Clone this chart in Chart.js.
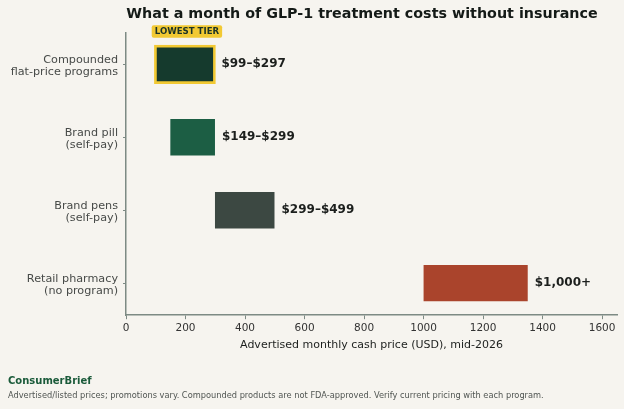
<!DOCTYPE html>
<html>
<head>
<meta charset="utf-8">
<script src="https://cdn.jsdelivr.net/npm/chart.js@4"></script>
<style>
  html, body { margin: 0; padding: 0; background: #f6f4ef; font-family: "DejaVu Sans"; }
  #wrap { width: 624px; height: 409px; }
  .probe { position: absolute; left: -999px; top: 0; font-family: "DejaVu Sans"; }
</style>
</head>
<body>
<span class="probe">Aa</span><span class="probe" style="font-weight:bold">Aa</span>
<div id="wrap"><canvas id="chart" width="624" height="409"></canvas></div>
<script>
// data
const categories = [
    ['Compounded', 'flat-price programs'],
    ['Brand pill', '(self-pay)'],
    ['Brand pens', '(self-pay)'],
    ['Retail pharmacy', '(no program)']
];
const lowPrices = [99, 149, 299, 1000];
const highPrices = [297, 299, 499, 1350];
const priceLabels = ['$99–$297', '$149–$299', '$299–$499', '$1,000+'];
const xTicks = [0, 200, 400, 600, 800, 1000, 1200, 1400, 1600];
const barColors = ['#153a2d', '#1c5e44', '#3c4842', '#aa442c'];

const FONT = '"DejaVu Sans"';

// title, badge, value labels and footer
const decorations = {
    id: 'decorations',
    beforeDraw(chart) {
        const c = chart.ctx;
        c.save();
        c.fillStyle = '#f6f4ef';
        c.fillRect(0, 0, chart.width, chart.height);
        c.restore();
    },
    afterDatasetsDraw(chart) {
        const c = chart.ctx;
        const bars = chart.getDatasetMeta(0).data;
        c.save();

        // value labels
        c.font = 'bold 12px ' + FONT;
        c.fillStyle = '#1c1f1d';
        c.textAlign = 'left';
        c.textBaseline = 'middle';
        bars.forEach((bar, i) => {
            c.fillText(priceLabels[i], bar.x + 7, bar.y);
        });

        // badge above the cheapest tier
        const first = bars[0];
        const cx = (first.x + first.base) / 2 + 2;
        c.font = 'bold 8.6px ' + FONT;
        const w = c.measureText('LOWEST TIER').width + 6;
        const top = first.y - first.height / 2 - 21;
        c.fillStyle = '#f2c933';
        c.beginPath();
        c.roundRect(cx - w / 2, top, w, 12.5, 2);
        c.fill();
        c.fillStyle = '#1b3328';
        c.textAlign = 'center';
        c.fillText('LOWEST TIER', cx, top + 6.5);

        // title
        c.font = 'bold 14.3px ' + FONT;
        c.fillStyle = '#141a17';
        c.fillText('What a month of GLP-1 treatment costs without insurance', 362, 14);

        // footer
        c.textAlign = 'left';
        c.font = 'bold 10px ' + FONT;
        c.fillStyle = '#1a5a3a';
        c.fillText('ConsumerBrief', 8, 381);
        c.font = '8.25px ' + FONT;
        c.fillStyle = '#505552';
        c.fillText('Advertised/listed prices; promotions vary. Compounded products are not FDA-approved. Verify current pricing with each program.', 8, 396);
        c.restore();
    }
};

function draw() {
    new Chart(document.getElementById('chart'), {
        type: 'bar',
        data: {
            datasets: [{
                data: categories.map((cat, i) => ({ y: i, x: [lowPrices[i], highPrices[i]] })),
                backgroundColor: barColors,
                borderColor: '#f2c933',
                borderWidth: [2.7, 0, 0, 0],
                borderSkipped: false,
                inflateAmount: ctx => ctx.dataIndex === 0 ? 1.4 : 'auto',
                categoryPercentage: 1,
                barPercentage: 0.5
            }]
        },
        options: {
            indexAxis: 'y',
            responsive: false,
            animation: false,
            layout: { padding: { top: 33, right: 7, bottom: 57, left: 0 } },
            plugins: {
                legend: { display: false },
                tooltip: { enabled: false }
            },
            scales: {
                x: {
                    type: 'linear',
                    min: 0,
                    max: 1650,
                    afterBuildTicks: s => { s.ticks = xTicks.map(v => ({ value: v })); },
                    grid: { drawOnChartArea: false, drawTicks: true, tickLength: 4, color: '#7d8a84', lineWidth: 1 },
                    border: { display: true, color: '#7d8a84', width: 1.5 },
                    ticks: { font: { family: FONT, size: 10.5 }, color: '#333', padding: 2.5, callback: v => String(v) },
                    title: {
                        display: true,
                        text: 'Advertised monthly cash price (USD), mid-2026',
                        font: { family: FONT, size: 11 },
                        color: '#1c1f1d',
                        padding: { top: 2, bottom: 0 }
                    }
                },
                y: {
                    type: 'linear',
                    reverse: true,
                    offset: false,
                    min: -0.43,
                    max: 3.44,
                    afterBuildTicks: s => { s.ticks = categories.map((c, i) => ({ value: i })); },
                    afterFit: s => { s.width = 126; },
                    grid: { offset: false, drawOnChartArea: false, drawTicks: true, tickLength: 3, color: '#7d8a84' },
                    border: { display: true, color: '#7d8a84', width: 1.5 },
                    ticks: {
                        font: { family: FONT, size: 11.2, lineHeight: 1.07 },
                        color: '#474a48',
                        padding: 5,
                        labelOffset: 2,
                        callback: v => categories[v]
                    }
                }
            }
        },
        plugins: [decorations]
    });
}

Promise.all([
    document.fonts.load('11px "DejaVu Sans"'),
    document.fonts.load('bold 11px "DejaVu Sans"')
]).then(draw, draw);
</script>
</body>
</html>
